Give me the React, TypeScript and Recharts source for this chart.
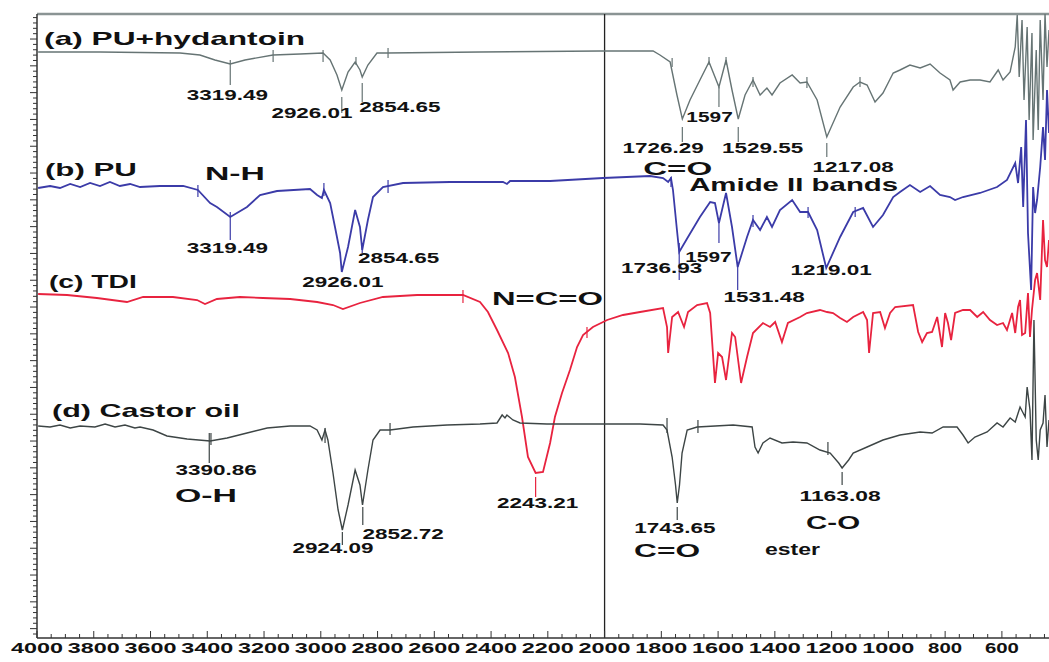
import { LineChart, Line, XAxis, YAxis, ReferenceLine, ReferenceDot } from "recharts";

type Pt = [number, number];

// FTIR spectra: [wavenumber cm-1, offset transmittance]
const puHydantoin: Pt[] = [
  [3996, 58.6], [3778, 58.6], [3496, 58.5], [3426, 58.3], [3373, 57.8], [3319, 57.4],
  [3267, 57.8], [3168, 58.3], [3073, 58.4], [2992, 58.5], [2967, 57.8], [2943, 56.3],
  [2926, 54.8], [2904, 56.6], [2879, 57.6], [2862, 56.8], [2854, 56.1], [2834, 57.3],
  [2802, 58.5], [2767, 58.5], [2439, 58.6], [2016, 58.7], [1829, 58.7], [1805, 58.3],
  [1769, 57.6], [1745, 54.3], [1726, 51.9], [1699, 53.8], [1664, 55.8], [1632, 57.6],
  [1597, 55.1], [1572, 57.8], [1551, 54.8], [1529, 51.9], [1505, 54.3], [1477, 55.8],
  [1452, 54.3], [1428, 55.0], [1410, 54.3], [1382, 55.5], [1339, 56.3], [1311, 55.5],
  [1287, 55.6], [1251, 53.8], [1217, 50.1], [1170, 53.1], [1124, 55.1], [1100, 55.6],
  [1075, 55.3], [1047, 53.6], [1019, 54.5], [983, 56.5], [959, 56.8], [924, 57.3],
  [888, 57.0], [853, 57.4], [818, 56.5], [783, 55.8], [772, 54.8], [747, 55.6],
  [712, 55.8], [677, 55.8], [642, 55.6], [613, 56.8], [596, 55.8], [571, 56.6],
  [553, 59.1], [546, 62.3], [539, 56.1], [529, 61.8], [522, 53.8], [511, 61.1],
  [504, 51.8], [494, 60.5], [490, 49.8], [479, 58.8], [472, 50.8], [465, 61.8],
  [455, 53.8], [448, 62.4], [441, 57.1], [434, 60.8],
];

const pu: Pt[] = [
  [3996, 45.0], [3954, 45.2], [3919, 45.0], [3883, 45.4], [3848, 45.1], [3813, 45.5],
  [3778, 45.2], [3743, 45.6], [3708, 45.2], [3672, 45.4], [3637, 45.1], [3567, 45.2],
  [3485, 45.2], [3433, 44.8], [3390, 43.5], [3366, 43.1], [3319, 42.1], [3260, 43.1],
  [3214, 44.3], [3154, 44.7], [3038, 44.9], [3013, 44.3], [2996, 44.0], [2989, 44.8],
  [2967, 43.5], [2950, 41.1], [2932, 38.5], [2926, 36.6], [2904, 39.1], [2879, 42.8],
  [2862, 41.1], [2854, 38.8], [2834, 41.8], [2816, 44.1], [2781, 45.1], [2710, 45.5],
  [2545, 45.6], [2358, 45.6], [2344, 45.4], [2333, 45.7], [2192, 45.7], [2005, 46.0],
  [1840, 46.2], [1794, 46.0], [1776, 45.6], [1766, 46.0], [1759, 44.8], [1745, 40.8],
  [1737, 38.6], [1706, 40.1], [1664, 42.1], [1628, 43.6], [1611, 43.5], [1597, 41.5],
  [1572, 44.5], [1551, 41.1], [1531, 37.1], [1498, 40.1], [1477, 41.8], [1452, 40.8],
  [1428, 42.1], [1410, 41.1], [1382, 42.8], [1339, 43.8], [1311, 42.6], [1283, 42.6],
  [1251, 40.8], [1219, 37.0], [1170, 40.1], [1124, 42.6], [1089, 43.0], [1054, 41.1],
  [1019, 42.3], [983, 44.1], [959, 44.6], [924, 45.3], [888, 44.6], [853, 45.2],
  [818, 44.3], [783, 44.1], [765, 43.8], [737, 44.1], [677, 44.5], [617, 45.1],
  [582, 45.8], [553, 47.5], [543, 45.5], [532, 49.1], [525, 43.1], [515, 51.8],
  [508, 40.5], [497, 34.8], [490, 45.1], [483, 42.5], [476, 43.8], [465, 47.1],
  [455, 51.1], [448, 47.8], [441, 54.8], [434, 50.5],
];

const tdi: Pt[] = [
  [3996, 34.4], [3894, 34.3], [3789, 34.0], [3683, 33.6], [3626, 34.1], [3521, 34.1],
  [3436, 33.8], [3408, 33.4], [3366, 33.9], [3285, 34.1], [3204, 34.0], [3108, 33.9],
  [3013, 33.6], [2957, 33.3], [2922, 32.9], [2862, 33.5], [2781, 34.1], [2661, 34.3],
  [2499, 34.3], [2439, 33.6], [2411, 32.6], [2379, 30.8], [2340, 28.5], [2316, 26.1],
  [2291, 22.1], [2270, 18.1], [2243, 16.5], [2217, 16.6], [2192, 19.5], [2175, 22.1],
  [2150, 24.5], [2122, 26.8], [2097, 29.1], [2076, 30.3], [2041, 31.1], [1991, 31.8],
  [1935, 32.3], [1875, 32.6], [1794, 33.0], [1780, 31.1], [1776, 28.5], [1762, 32.1],
  [1741, 32.6], [1720, 31.1], [1706, 32.6], [1674, 33.3], [1639, 33.5], [1628, 32.5],
  [1611, 25.5], [1600, 28.5], [1586, 28.1], [1572, 25.8], [1551, 30.5], [1540, 30.1],
  [1519, 25.5], [1498, 28.1], [1477, 30.5], [1442, 31.5], [1417, 31.1], [1399, 31.6],
  [1375, 29.6], [1354, 31.5], [1311, 32.1], [1287, 32.5], [1241, 32.8], [1216, 32.6],
  [1195, 32.5], [1170, 32.0], [1146, 31.6], [1124, 32.1], [1089, 32.6], [1075, 31.8],
  [1068, 28.5], [1054, 32.5], [1029, 32.6], [1012, 31.0], [994, 32.5], [976, 33.1],
  [913, 33.3], [895, 30.6], [881, 29.6], [864, 30.5], [846, 30.6], [828, 32.1],
  [811, 29.1], [800, 32.5], [790, 31.5], [779, 29.8], [765, 32.5], [737, 32.8],
  [712, 32.8], [687, 32.1], [666, 32.6], [642, 31.8], [617, 31.3], [596, 31.5],
  [582, 30.8], [564, 32.5], [553, 30.5], [543, 33.1], [536, 33.8], [529, 30.3],
  [518, 30.5], [508, 34.5], [501, 30.1], [494, 32.8], [483, 35.8], [476, 36.5],
  [465, 33.8], [455, 41.8], [448, 37.8], [441, 37.1], [434, 39.8],
];

const castorOil: Pt[] = [
  [3996, 21.2], [3954, 21.1], [3919, 21.3], [3883, 21.0], [3848, 21.2], [3796, 21.1],
  [3760, 21.4], [3725, 21.1], [3690, 21.3], [3655, 21.0], [3637, 21.1], [3591, 20.8],
  [3542, 20.2], [3471, 19.9], [3390, 19.7], [3330, 20.0], [3260, 20.5], [3189, 21.0],
  [3108, 21.2], [3038, 21.2], [3013, 20.8], [2996, 19.8], [2985, 20.8], [2975, 19.8],
  [2957, 16.5], [2939, 12.8], [2924, 10.8], [2904, 13.3], [2879, 16.8], [2862, 15.3],
  [2853, 13.3], [2834, 16.8], [2816, 19.8], [2791, 20.8], [2756, 20.8], [2675, 21.1],
  [2555, 21.3], [2439, 21.4], [2379, 21.5], [2361, 22.3], [2351, 22.0], [2344, 22.3],
  [2323, 21.8], [2298, 21.5], [2203, 21.4], [1875, 21.4], [1794, 21.3], [1780, 20.8],
  [1762, 18.1], [1750, 15.3], [1744, 13.5], [1736, 15.3], [1727, 18.5], [1709, 20.8],
  [1674, 21.1], [1547, 21.3], [1480, 21.1], [1470, 19.1], [1459, 18.5], [1442, 19.5],
  [1417, 20.0], [1375, 19.5], [1336, 19.6], [1287, 19.5], [1241, 18.8], [1205, 18.5],
  [1175, 17.5], [1163, 17.0], [1140, 17.8], [1124, 18.5], [1075, 19.1], [1019, 19.8],
  [959, 20.3], [888, 20.6], [846, 20.5], [807, 21.1], [758, 21.1], [737, 20.3],
  [719, 19.5], [695, 20.1], [652, 20.6], [617, 21.5], [596, 21.1], [571, 22.0],
  [553, 21.6], [536, 23.1], [518, 22.1], [511, 25.1], [501, 22.8], [494, 17.8],
  [487, 31.8], [479, 19.8], [472, 17.8], [465, 20.8], [455, 21.5], [448, 24.3],
  [441, 19.1], [434, 21.8],
];

const xLabels = [4000, 3800, 3600, 3400, 3200, 3000, 2800, 2600, 2400, 2200, 2000, 1800, 1600, 1400, 1200, 1000, 800, 600];

// peak-pick marker lines: [wavenumber, from, to]
const marksA: [number, number, number][] = [
  [3319, 57.8, 55.3], [3168, 58.8, 57.6], [2992, 58.8, 57.6], [2926, 54.1, 52.5],
  [2876, 58.1, 57.3], [2854, 55.5, 53.6], [2763, 59.0, 58.0], [1762, 58.0, 57.1],
  [1726, 51.1, 49.6], [1632, 58.1, 57.3], [1597, 55.1, 53.1], [1572, 58.1, 57.3],
  [1529, 51.1, 49.6], [1477, 56.1, 55.1], [1287, 56.1, 55.0], [1217, 49.5, 48.1],
  [1100, 56.1, 55.1],
];
const marksB: [number, number, number][] = [
  [3433, 45.3, 44.1], [3319, 42.6, 39.8], [2989, 45.5, 44.2], [2854, 39.5, 38.5],
  [2763, 45.8, 44.5], [1766, 46.1, 45.1], [1737, 39.5, 35.8], [1597, 41.5, 39.5],
  [1531, 37.3, 34.8], [1477, 42.3, 41.1], [1283, 43.1, 42.0], [1117, 43.1, 42.1],
];
const marksC: [number, number, number][] = [
  [2499, 34.8, 33.5], [2243, 16.1, 14.1], [2062, 31.1, 30.0],
];
const marksD: [number, number, number][] = [
  [3393, 20.5, 17.5], [3387, 20.5, 19.3], [2985, 21.0, 19.5], [2924, 10.6, 9.3],
  [2852, 13.1, 11.3], [2756, 21.5, 20.3], [1780, 22.0, 20.5], [1671, 21.8, 20.5],
  [1744, 13.1, 11.8], [1213, 19.6, 18.3], [1163, 16.6, 15.3],
];

// peak value labels: [text, centre wavenumber, baseline]
const peakLabels: [string, number, number][] = [
  ["3319.49", 3329, 53.8], ["2926.01", 3031, 52.0], ["2854.65", 2721, 52.6],
  ["1726.29", 1794, 48.5], ["1597", 1630, 51.6], ["1529.55", 1443, 48.5], ["1217.08", 1124, 46.6],
  ["3319.49", 3329, 38.5], ["2926.01", 2922, 35.1], ["2854.65", 2726, 37.5],
  ["1736.93", 1799, 36.5], ["1597", 1634, 37.6], ["1531.48", 1438, 33.6], ["1219.01", 1202, 36.3],
  ["2243.21", 2236, 13.0],
  ["3390.86", 3369, 16.3], ["2924.09", 2957, 8.5], ["2852.72", 2710, 9.9],
  ["1743.65", 1752, 10.5], ["1163.08", 1170, 13.7],
];

// curve names and band assignments: [text, left wavenumber, baseline, width]
const bandLabels: [string, number, number, number][] = [
  ["(a) PU+hydantoin", 3975, 59.3, 261], ["(b) PU", 3972, 46.2, 92], ["N-H", 3408, 45.8, 60],
  ["(c) TDI", 3958, 35.0, 88], ["N=C=O", 2397, 33.3, 111], ["(d) Castor oil", 3947, 22.1, 188],
  ["O-H", 3514, 13.6, 62], ["C=O", 1864, 46.3, 69], ["Amide II bands", 1702, 44.7, 209],
  ["C=O", 1896, 8.1, 66], ["ester", 1435, 8.3, 55], ["C-O", 1290, 10.9, 54],
];

const xTicks: number[] = [];
for (let w = 4000; w >= 450; w -= 50) xTicks.push(w);
const yTicks: number[] = [];
for (let i = 0; i <= 115; i++) yTicks.push(+(0.4 + i * 0.536).toFixed(3));

const AXIS = "#333";
const FONT = "'Liberation Sans', Arial, sans-serif";

function XTick(props: any) {
  const { x, y, payload } = props;
  const v = payload.value as number;
  const major = v % 200 === 0;
  const lbl = xLabels.includes(v);
  return (
    <g>
      <line x1={x} x2={x} y1={y} y2={y - (major ? 7 : 4)} stroke={AXIS} strokeWidth={1} />
      {lbl && (
        <text x={x} y={y + 15} textAnchor="middle" fontFamily={FONT} fontWeight="bold" fontSize={14}
          fill="#111" textLength={String(v).length === 4 ? 52 : 34} lengthAdjust="spacingAndGlyphs">
          {v}
        </text>
      )}
    </g>
  );
}

function YTick(props: any) {
  const { x, y, payload } = props;
  const k = Math.round((payload.value - 0.936) / 0.536);
  const major = k % 5 === 0;
  return <line x1={x} x2={x - (major ? 7 : 4)} y1={y} y2={y} stroke={AXIS} strokeWidth={1} />;
}

const toRows = (pts: Pt[]) => pts.map(([wn, t]) => ({ wn, t }));

const spectra = [
  { name: "PU+hydantoin", pts: puHydantoin, color: "#667474", width: 1.4, marks: marksA },
  { name: "PU", pts: pu, color: "#3b3ba8", width: 1.8, marks: marksB },
  { name: "TDI", pts: tdi, color: "#e8233f", width: 1.8, marks: marksC },
  { name: "Castor oil", pts: castorOil, color: "#3d4545", width: 1.4, marks: marksD },
];

export default function App() {
  return (
    <div style={{ position: "absolute", left: 0, top: 0, width: 1049, height: 662, overflow: "hidden", background: "#fff" }}>
      <LineChart width={1049} height={662} margin={{ top: 14, right: 0, bottom: 0, left: 0 }}>
        <XAxis
          dataKey="wn"
          type="number"
          domain={[434, 4000]}
          reversed
          allowDataOverflow
          ticks={xTicks}
          interval={0}
          height={24}
          tickLine={false}
          tickSize={0}
          tickMargin={0}
          stroke={AXIS}
          strokeWidth={1.5}
          tick={XTick}
        />
        <YAxis
          type="number"
          domain={[0, 62.4]}
          allowDataOverflow
          ticks={yTicks}
          interval={0}
          width={37}
          tickLine={false}
          tickSize={0}
          tickMargin={0}
          stroke={AXIS}
          strokeWidth={1.5}
          tick={YTick}
        />
        <ReferenceLine y={62.4} stroke="#8a9494" strokeWidth={2.5} ifOverflow="visible" />
        <ReferenceLine x={2000} stroke="#222" strokeWidth={1.3} />
        {spectra.map((s) => (
          <Line
            key={s.name}
            data={toRows(s.pts)}
            dataKey="t"
            type="linear"
            stroke={s.color}
            strokeWidth={s.width}
            dot={false}
            isAnimationActive={false}
          />
        ))}
        {spectra.flatMap((s) =>
          s.marks.map(([wn, a, b], i) => (
            <ReferenceLine
              key={s.name + i}
              segment={[{ x: wn, y: a }, { x: wn, y: b }]}
              stroke={s.color}
              strokeWidth={1.2}
            />
          ))
        )}
        {peakLabels.map(([text, wn, v], i) => (
          <ReferenceDot
            key={"p" + i}
            x={wn}
            y={v}
            r={0}
            shape={(p: any) => (
              <text x={p.cx} y={p.cy} textAnchor="middle" fontFamily={FONT} fontWeight="bold" fontSize={14}
                fill="#111" textLength={text.length * 11.6} lengthAdjust="spacingAndGlyphs">
                {text}
              </text>
            )}
          />
        ))}
        {bandLabels.map(([text, wn, v, w], i) => (
          <ReferenceDot
            key={"b" + i}
            x={wn}
            y={v}
            r={0}
            shape={(p: any) => (
              <text x={p.cx} y={p.cy} textAnchor="start" fontFamily={FONT} fontWeight="bold"
                fontSize={text === "ester" ? 17 : 19} fill="#111" textLength={w} lengthAdjust="spacingAndGlyphs">
                {text}
              </text>
            )}
          />
        ))}
      </LineChart>
    </div>
  );
}
